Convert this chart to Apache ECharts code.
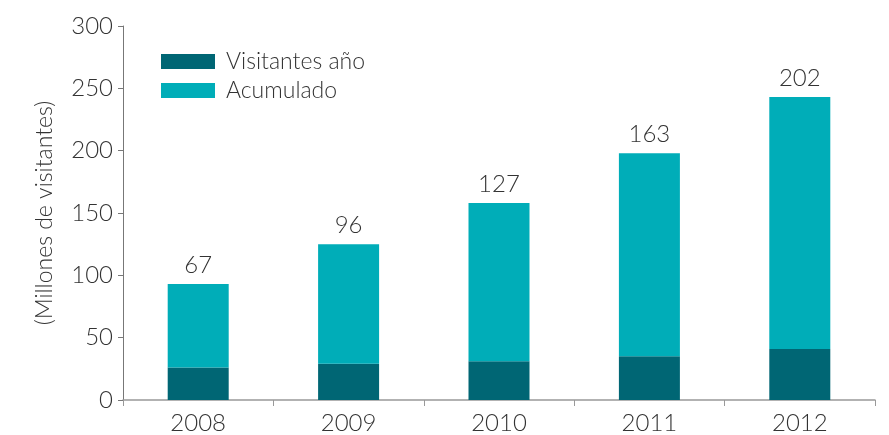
<!DOCTYPE html>
<html><head><meta charset="utf-8">
<script src="https://cdn.jsdelivr.net/npm/echarts@6/dist/echarts.min.js"></script>
<style>html,body{margin:0;padding:0;background:#fff}#c{width:889px;height:435px}</style>
</head><body><div id="c"></div>
<script>
const categories = ['2008','2009','2010','2011','2012'];
const visitantesAno = [26, 29, 31, 35, 41];
const acumulado = [67, 96, 127, 163, 202];
const yTicks = [0, 50, 100, 150, 200, 250, 300];

const FONT = 'Lato';
const W = 300;
const TXT = '#333';
const chart = echarts.init(document.getElementById('c'), null, {renderer:'canvas'});
chart.setOption({
  animation: false,
  textStyle: {fontFamily: FONT, fontWeight: W},
  legend: {
    orient: 'vertical', left: 161, top: 50, padding: 0,
    itemWidth: 54, itemHeight: 15, itemGap: 6,
    icon: 'rect',
    textStyle: {fontFamily: FONT, fontSize: 23, color: TXT, fontWeight: W, padding:[0,0,0,6]},
    data: ['Visitantes año','Acumulado']
  },
  grid: {left: 123, right: 14, top: 26, bottom: 35},
  xAxis: {
    type: 'category', data: categories,
    axisLine: {lineStyle: {color: '#999', width: 1.5}},
    axisTick: {show: true, length: 6, lineStyle: {color: '#999'}},
    axisLabel: {fontFamily: FONT, fontSize: 24, color: TXT, margin: 11, fontWeight: W}
  },
  yAxis: {
    type: 'value', min: yTicks[0], max: yTicks[yTicks.length-1], interval: 50,
    name: '(Millones de visitantes)', nameLocation: 'middle', nameGap: 67, nameRotate: 90,
    nameTextStyle: {fontFamily: FONT, fontSize: 23, color: TXT, fontWeight: W},
    axisLine: {show: true, lineStyle: {color: '#777'}},
    axisTick: {show: true, length: 5, lineStyle: {color: '#777'}},
    splitLine: {show: false},
    axisLabel: {fontFamily: FONT, fontSize: 24, color: TXT, margin: 10, fontWeight: W}
  },
  series: [
    {name: 'Visitantes año', type: 'bar', stack: 's', data: visitantesAno, barWidth: 61,
     itemStyle: {color: '#006674'}},
    {name: 'Acumulado', type: 'bar', stack: 's', data: acumulado, barWidth: 61,
     itemStyle: {color: '#00ADB8'},
     label: {show: true, position: 'top', distance: 7, fontFamily: FONT, fontSize: 24, color: TXT, fontWeight: W}}
  ]
});
</script></body></html>
